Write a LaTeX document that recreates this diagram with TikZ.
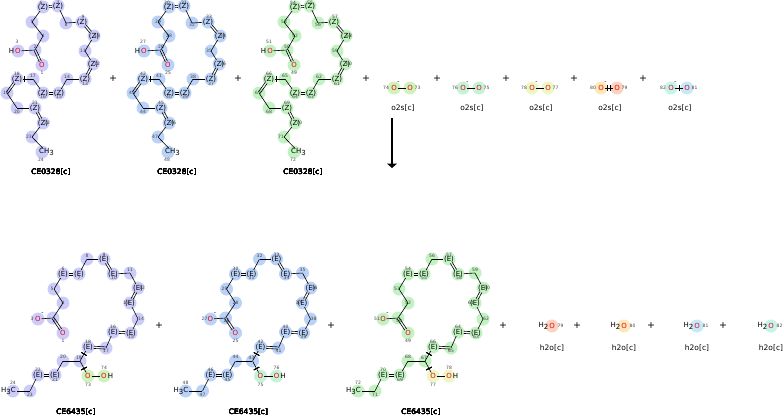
\documentclass[tikz,border=0pt]{standalone}
\usepackage{fontspec}
\setmainfont{DejaVu Sans}
\usetikzlibrary{calc,arrows.meta}

\definecolor{lav}{HTML}{CCCCFA}
\definecolor{blu}{HTML}{BAD2F7}
\definecolor{grn}{HTML}{C2F2C2}
\definecolor{hpa}{HTML}{CFF3BA}
\definecolor{hpb}{HTML}{C4F3D6}
\definecolor{hpc}{HTML}{EEF7C4}
\definecolor{sal}{HTML}{FCD3BD}
\definecolor{pch}{HTML}{FDE8B6}
\definecolor{sky}{HTML}{C4EAF8}
\definecolor{aqu}{HTML}{C4F4EA}
\definecolor{ored}{HTML}{E6001E}
\definecolor{numgray}{HTML}{444444}

\tikzset{
  bond/.style={line width=0.6pt},
  atom/.style={inner sep=0.6pt, font=\fontsize{7}{7}\selectfont},
  carb/.style={inner sep=0pt, minimum size=0pt},
  stereo/.style={atom},
  oxy/.style={atom, text=ored},
  hoxy/.style={oxy, label={[atom, text=black, inner sep=0pt]left:H}},
  oxyh/.style={oxy, label={[atom, text=black, inner sep=0pt]right:H}},
  methyl/.style={atom, anchor=west, xshift=-3.6pt},
  methylr/.style={atom, anchor=east, xshift=3.6pt},
  num/.style={font=\fontsize{4.5}{4.5}\selectfont, text=numgray, inner sep=0pt},
  chg/.style={font=\fontsize{6}{6}\selectfont, inner sep=0pt},
  molname/.style={font=\fontsize{7.5}{7.5}\selectfont},
  plus/.style={font=\fontsize{9.5}{9.5}\selectfont}
}

% double bond between two atoms
\newcommand\dbond[2]{%
  \path (#1) -- (#2) coordinate[pos=0] (ds) coordinate[pos=1] (de);
  \draw[bond] ($(ds)!1.1pt!90:(de)$) -- ($(de)!1.1pt!-90:(ds)$)
              ($(ds)!1.1pt!-90:(de)$) -- ($(de)!1.1pt!90:(ds)$);}
% small cross mark on a bond
\newcommand\stick[3]{%
  \coordinate (tm) at ($(#1)!#3!(#2)$);
  \draw[bond] ($(tm)!3pt!90:(#2)$) -- ($(tm)!3pt!-90:(#2)$);}

% id/x/y/style/text/number dx/number dy
\def\topatoms{1/42/65/oxy/O/0/8, 2/35/50/carb/{}/0/-3, 3/18/51/hoxy/O/-1/-9,
  4/43/36/carb/{}/0/0, 5/32/22/carb/{}/0/0, 6/43/7/stereo/(Z)/-2/-4,
  7/58/6/stereo/(Z)/0/-3, 8/66/23/carb/{}/0/2, 9/82/22/stereo/(Z)/1/-5,
  10/94/36/stereo/(Z)/3/0, 11/85/51/carb/{}/-2/0, 12/93/64/stereo/(Z)/4/0,
  13/85/79/stereo/(Z)/0/5, 14/67/79/carb/{}/0/-2, 15/59/93/stereo/(Z)/0/4,
  16/43/93/stereo/(Z)/0/4, 17/33/79/carb/{}/0/-3, 18/17/79/stereo/(Z)/0/-5,
  19/7/93/carb/{}/-1/0, 20/17/108/carb/{}/0/4, 21/35/108/stereo/(Z)/0/-5,
  22/43/123/stereo/(Z)/4/0, 23/32/137/carb/{}/-3/0,
  24/42/152/methyl/CH\raisebox{-1.2pt}{3}/-1/8}

\def\botatoms{1/63/333/oxy/O/0/8, 2/53/318/carb/{}/1/3, 3/38/319/oxy/O/-6/0,
  4/63/303/carb/{}/0/0, 5/54/289/carb/{}/-2/0, 6/63/274/stereo/(E)/0/-5,
  7/79/274/stereo/(E)/0/4, 8/87/259/carb/{}/0/-3, 9/104/259/stereo/(E)/0/-4,
  10/113/274/stereo/(E)/1/4, 11/130/273/carb/{}/0/-3, 12/138/288/stereo/(E)/4/0,
  13/130/303/stereo/(E)/-4/0, 14/138/319/carb/{}/3/0, 15/131/333/stereo/(E)/0/4,
  16/113/332/stereo/(E)/0/-5, 17/106/348/carb/{}/0/3, 18/88/347/stereo/(E)/0/-5,
  19/80/361/carb/{}/-1/-3, 20/63/361/carb/{}/0/-4, 21/55/375/stereo/(E)/0/5,
  22/38/375/stereo/(E)/0/-5, 23/30/391/carb/{}/0/4,
  24/13/391/methylr/H\raisebox{-1.2pt}{3}C/0/-8,
  73/88/376/oxy/O/0/9, 74/104/376/oxyh/O/0/-8}

\begin{document}
\begin{tikzpicture}[x=1pt, y=-1pt]
\useasboundingbox (0,0) rectangle (783,416);
\fill[white] (0,0) rectangle (783,416);

% substrates
\foreach \k/\hl in {0/lav,1/blu,2/grn}{
  \begin{scope}[shift={(126*\k,0)}]
    \foreach \i/\x/\y/\st/\lab/\dx/\dy in \topatoms
      \fill[\hl] (\x,\y) circle (6.5);
    \foreach \i/\x/\y/\st/\lab/\dx/\dy in \topatoms{
      \pgfmathtruncatemacro\n{\i+24*\k}
      \node[num] (n\i) at (\x+\dx,\y+\dy) {\n};
      \node[\st] (a\i) at (\x,\y) {\lab};
    }
    \foreach \a/\b in {2/3,2/4,4/5,5/6,7/8,8/9,10/11,11/12,13/14,14/15,
                       16/17,17/18,19/20,20/21,22/23,23/24}
      \draw[bond] (a\a) -- (a\b);
    \foreach \a/\b in {1/2,6/7,9/10,12/13,15/16,18/19,21/22}
      \dbond{a\a}{a\b}
    \stick{a18}{a17}{0.45}
    \node[molname] (tn) at (51,172) {CE0328[c]};
  \end{scope}
}

\foreach \m/\x/\numl/\numr/\cla/\clb in {0/394/74/73/hpa/hpa, 1/463/76/75/hpb/hpb,
    2/532/78/77/hpc/hpc, 3/601/80/79/pch/sal, 4/671/82/81/aqu/sky}{
  \fill[\cla] (\x,88) circle (6.5);
  \fill[\clb] (\x+16,88) circle (6.5);
  \node[oxy] (ol\m) at (\x,88) {O};
  \node[oxy] (or\m) at (\x+16,88) {O};
  \node[num] (nl\m) at (\x-8,88) {\numl};
  \node[num] (nr\m) at (\x+23.5,88) {\numr};
  \node[chg] (q\m) at (\x+4.5,82.5) {-};
  \draw[bond] (ol\m) -- (or\m);
  \node[molname] (on\m) at (\x+9,108) {o2s[c]};
}
\stick{ol3}{or3}{0.42}
\stick{ol3}{or3}{0.58}
\stick{ol4}{or4}{0.5}

\foreach \m/\x in {1/113,2/238,3/366,4/437,5/506,6/574,7/643}
  \node[plus] (pt\m) at (\x,79) {+};

\coordinate (arrtop) at (392,118);
\coordinate (arrbot) at (392,168);
\draw[line width=2.8pt, -{Triangle[length=4.5pt,width=10pt]}] (arrtop) -- (arrbot);

% products
\foreach \k/\hl/\ohl in {0/lav/hpa,1/blu/hpb,2/grn/hpc}{
  \begin{scope}[shift={(172.5*\k,0)}]
    \foreach \i/\x/\y/\st/\lab/\dx/\dy in \botatoms{
      \ifnum\i<73 \fill[\hl] (\x,\y) circle (6.5);
      \else \fill[\ohl] (\x,\y) circle (6.5); \fi
    }
    \foreach \i/\x/\y/\st/\lab/\dx/\dy in \botatoms{
      \pgfmathtruncatemacro\n{\i<73 ? \i+24*\k : \i+2*\k}
      \node[num] (n\i) at (\x+\dx,\y+\dy) {\n};
      \node[\st] (a\i) at (\x,\y) {\lab};
    }
    \node[chg] (qb) at (42.5,314) {-};
    \foreach \a/\b in {2/3,2/4,4/5,5/6,7/8,8/9,10/11,11/12,13/14,14/15,
                       16/17,18/19,19/20,20/21,22/23,23/24,19/73,73/74}
      \draw[bond] (a\a) -- (a\b);
    \foreach \a/\b in {1/2,6/7,9/10,12/13,15/16,17/18,21/22}
      \dbond{a\a}{a\b}
    \stick{a18}{a19}{0.5}
    \stick{a19}{a73}{0.5}
    \node[molname] (bn) at (76,412) {CE6435[c]};
  \end{scope}
}

\foreach \m/\x/\nn/\cc in {0/552/79/sal, 1/624/80/pch, 2/697/81/sky, 3/771/82/aqu}{
  \fill[\cc] (\x,326) circle (6.5);
  \node[oxy, label={[atom, text=black, inner sep=0pt]left:H\raisebox{-1.2pt}{2}}] (w\m) at (\x,326) {O};
  \node[num] (wn\m) at (\x+8.5,326) {\nn};
  \node[molname] (wl\m) at (\x,348) {h2o[c]};
}

\foreach \m/\x in {1/159,2/331,3/503,4/577,5/651,6/723}
  \node[plus] (pb\m) at (\x,326) {+};
\end{tikzpicture}
\end{document}
